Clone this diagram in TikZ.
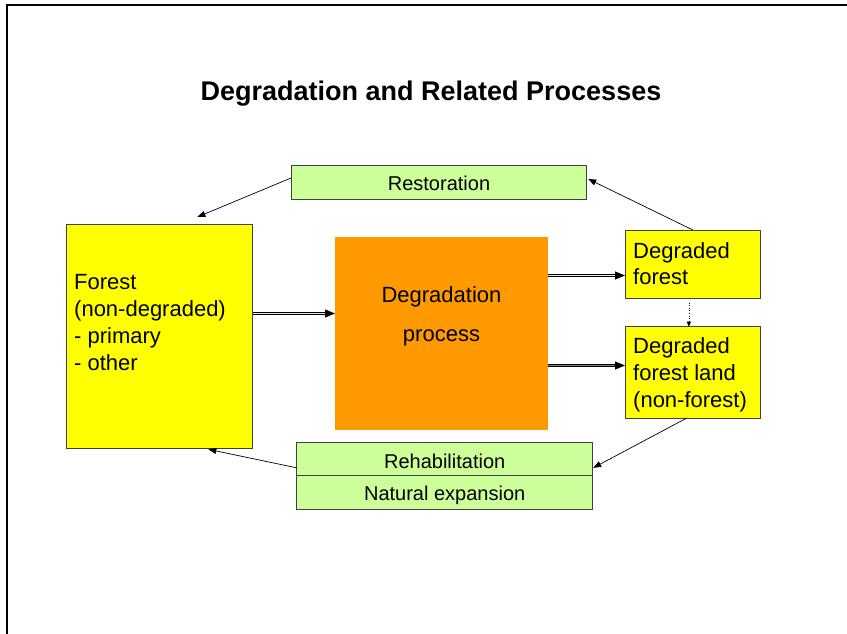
\documentclass[tikz,border=0pt]{standalone}
\usepackage{fontspec}
\setmainfont{Liberation Sans}
\usetikzlibrary{arrows.meta}
\definecolor{fyellow}{HTML}{FFFF00}
\definecolor{forange}{HTML}{FF9900}
\definecolor{fgreen}{HTML}{CCFF99}
\definecolor{edgegray}{HTML}{404040}
\begin{document}
\begin{tikzpicture}[x=1pt,y=-1pt,
  box/.style={draw=edgegray, line width=0.8pt, inner sep=0pt, outer sep=0pt},
  ybox/.style={box, fill=fyellow},
  gbox/.style={box, fill=fgreen},
  obox/.style={fill=forange, inner sep=0pt, outer sep=0pt},
  lbl/.style={inner sep=0pt, font=\fontsize{22}{27}\selectfont},
  slbl/.style={inner sep=0pt, anchor=base, font=\fontsize{20}{24}\selectfont},
  thin arrow/.style={draw=black, line width=0.7pt, -{Triangle[length=8pt,width=6pt]}},
  dbl arrow/.style={draw=black, line width=0.8pt, double=#1, double distance=1.2pt,
    -{Triangle[length=10pt,width=8pt]}},
  dot arrow/.style={draw=black, line width=0.6pt, dotted, -{Triangle[length=5pt,width=4pt]}}
]
\useasboundingbox (0,0) rectangle (847,634);
% frame
\draw[line width=2pt] (847,5) -- (7,5) -- (7,634);

% title
\node[inner sep=0pt, anchor=base, font=\fontsize{27}{32}\bfseries] (title) at (431,100)
  {Degradation and Related Processes};

% boxes
\node[ybox, minimum width=186.7pt, minimum height=224pt] (forest) at (159.35,336) {};
\node[obox, minimum width=213pt, minimum height=192.4pt] (deg) at (441.5,333.5) {};
\node[ybox, minimum width=135.7pt, minimum height=68pt] (df) at (692.85,264) {};
\node[ybox, minimum width=135.7pt, minimum height=91.3pt] (dfl) at (692.85,372.35) {};
\node[gbox, minimum width=295.7pt, minimum height=34pt] (rest) at (438.85,182) {};
\node[gbox, minimum width=296pt, minimum height=32.3pt] (rehab) at (444.7,458.85) {};
\node[gbox, minimum width=296pt, minimum height=34pt] (natexp) at (444.7,492) {};

% labels (base anchor of a multi-line node = baseline of its last line)
\node[slbl] (restt) at (439,190) {Restoration};
\node[slbl] (rehabt) at (444.7,468.3) {Rehabilitation};
\node[slbl] (natexpt) at (444.7,500) {Natural expansion};
\node[lbl, anchor=base west, align=left, font=\fontsize{22}{27.3}\selectfont] (forestt) at (74,370.9)
  {Forest\\(non-degraded)\\- primary\\- other};
\node[lbl, anchor=base, align=center, font=\fontsize{22}{39}\selectfont] (degt) at (441.5,341.7)
  {Degradation\\process};
\node[lbl, anchor=base west, align=left, font=\fontsize{22}{26}\selectfont] (dft) at (633,284.3)
  {Degraded\\forest};
\node[lbl, anchor=base west, align=left, font=\fontsize{22}{27.2}\selectfont] (dflt) at (633,407.7)
  {Degraded\\forest land\\(non-forest)};

% connectors
\coordinate (ya) at (0,313.5);
\coordinate (yb) at (0,275.5);
\coordinate (yc) at (0,365.5);
\draw[dbl arrow=white!80!gray] (forest.east |- ya) -- (deg.west |- ya);
\draw[dbl arrow=white!80!gray] (deg.east |- yb) -- (df.west |- yb);
\draw[dbl arrow=gray] (deg.east |- yc) -- (dfl.west |- yc);
\draw[dot arrow] ([xshift=-4pt,yshift=-4.5pt]df.south) -- ([xshift=-4pt]dfl.north);
\draw[thin arrow] ([yshift=4pt]rest.west) -- ([xshift=38pt,yshift=7pt]forest.north);
\draw[thin arrow] (df.north) -- ([xshift=1.5pt,yshift=3pt]rest.east);
\draw[thin arrow] ([xshift=-6pt]dfl.south) -- ([xshift=0.5pt,yshift=-9pt]rehab.east);
\draw[thin arrow] ([yshift=-9pt]rehab.west) -- ([xshift=49pt,yshift=-1.3pt]forest.south);
\end{tikzpicture}
\end{document}
